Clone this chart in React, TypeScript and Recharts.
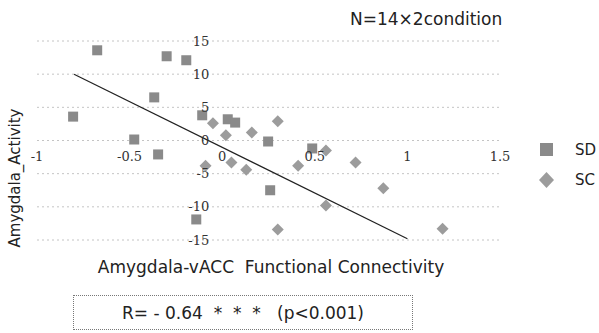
import { ScatterChart, Scatter, XAxis, YAxis, ReferenceLine, ReferenceDot } from 'recharts';

const sdX = [-0.675, -0.3, -0.194, -0.367, -0.805, -0.108, 0.03, 0.07, -0.475, -0.346, 0.248, 0.486, 0.259, -0.14];
const sdY = [13.6, 12.7, 12.1, 6.5, 3.6, 3.8, 3.2, 2.7, 0.15, -2.1, -0.15, -1.2, -7.5, -11.9];
const scX = [-0.05, 0.3, 0.02, 0.16, -0.09, 0.05, 0.13, 0.41, 0.56, 0.72, 0.56, 0.3, 0.87, 1.19];
const scY = [2.6, 2.9, 0.8, 1.2, -3.8, -3.3, -4.4, -3.8, -1.5, -3.3, -9.8, -13.4, -7.2, -13.3];
const trendX = [-0.8, 1.0];
const trendY = [10, -14.8];
const xTicks = [-1, -0.5, 0, 0.5, 1, 1.5];
const yTicks = [15, 10, 5, 0, -5, -10, -15];

const sdData = sdX.map((x, i) => ({ x, y: sdY[i] }));
const scData = scX.map((x, i) => ({ x, y: scY[i] }));

const tickStyle = { fill: '#333', fontSize: 13, fontFamily: '"DejaVu Serif", serif' };
const sans = '"DejaVu Sans", sans-serif';

const SquareDot = (p: any) => (
  <rect x={p.cx - 5} y={p.cy - 5} width={10} height={10} fill="#8a8a8a" />
);
const DiamondDot = (p: any) => (
  <polygon
    points={`${p.cx},${p.cy - 6} ${p.cx + 6},${p.cy} ${p.cx},${p.cy + 6} ${p.cx - 6},${p.cy}`}
    fill="#9c9c9c"
  />
);

function LegendBox() {
  return (
    <div style={{ position: 'absolute', left: 538, top: 135, fontFamily: sans, fontSize: 15, color: '#222' }}>
      <div style={{ display: 'flex', alignItems: 'center', height: 30 }}>
        <svg width={30} height={16}>
          <rect x={2} y={1} width={13} height={13} fill="#8a8a8a" />
        </svg>
        <span style={{ marginLeft: 7 }}>SD</span>
      </div>
      <div style={{ display: 'flex', alignItems: 'center', height: 30 }}>
        <svg width={30} height={16}>
          <polygon points="8.5,0 16,8 8.5,16 1,8" fill="#9c9c9c" />
        </svg>
        <span style={{ marginLeft: 7 }}>SC</span>
      </div>
    </div>
  );
}

export default function App() {
  return (
    <div style={{ position: 'absolute', left: 0, top: 0, width: 599, height: 333, background: '#fff' }}>
      <ScatterChart width={599} height={333} margin={{ top: 41, right: 99, bottom: 93, left: 37 }}>
        <XAxis type="number" dataKey="x" domain={[-1, 1.5]} hide />
        <YAxis type="number" dataKey="y" domain={[-15, 15]} hide />
        {yTicks.map((v) => (
          <ReferenceLine key={`g${v}`} y={v} stroke="#c4c4c4" strokeDasharray="2 3" />
        ))}
        {yTicks.map((v) => (
          <ReferenceDot
            key={`yl${v}`}
            x={0}
            y={v}
            r={0}
            fill="none"
            stroke="none"
            label={{ value: String(v), position: 'left', offset: 13, ...tickStyle }}
          />
        ))}
        {xTicks.map((v) => (
          <ReferenceDot
            key={`xl${v}`}
            x={v}
            y={0}
            r={0}
            fill="none"
            stroke="none"
            label={{ value: String(v), position: 'bottom', offset: 11, ...tickStyle }}
          />
        ))}
        <ReferenceLine
          segment={[
            { x: trendX[0], y: trendY[0] },
            { x: trendX[1], y: trendY[1] },
          ]}
          stroke="#222"
          strokeWidth={1.2}
        />
        <Scatter name="SD" data={sdData} shape={SquareDot} isAnimationActive={false} />
        <Scatter name="SC" data={scData} shape={DiamondDot} isAnimationActive={false} />
      </ScatterChart>
      <LegendBox />
      <div style={{ position: 'absolute', left: 350, top: 9, fontFamily: sans, fontSize: 17, color: '#222' }}>
        N=14×2condition
      </div>
      <div
        style={{
          position: 'absolute',
          left: 15,
          top: 178,
          transform: 'translate(-50%, -50%) rotate(-90deg)',
          fontFamily: sans,
          fontSize: 15,
          color: '#222',
          whiteSpace: 'nowrap',
        }}
      >
        Amygdala_Activity
      </div>
      <div
        style={{
          position: 'absolute',
          left: 271,
          top: 267,
          transform: 'translate(-50%, -50%)',
          fontFamily: sans,
          fontSize: 17,
          color: '#222',
          whiteSpace: 'pre',
        }}
      >
        {'Amygdala-vACC  Functional Connectivity'}
      </div>
      <div
        style={{
          position: 'absolute',
          left: 73,
          top: 295,
          width: 338,
          height: 33,
          border: '1px dotted #777',
          display: 'flex',
          alignItems: 'center',
          justifyContent: 'center',
          fontFamily: sans,
          fontSize: 17,
          color: '#222',
          whiteSpace: 'pre',
        }}
      >
        {'R= - 0.64 \u00a0* \u00a0* \u00a0*  \u00a0(p<0.001)'}
      </div>
    </div>
  );
}
